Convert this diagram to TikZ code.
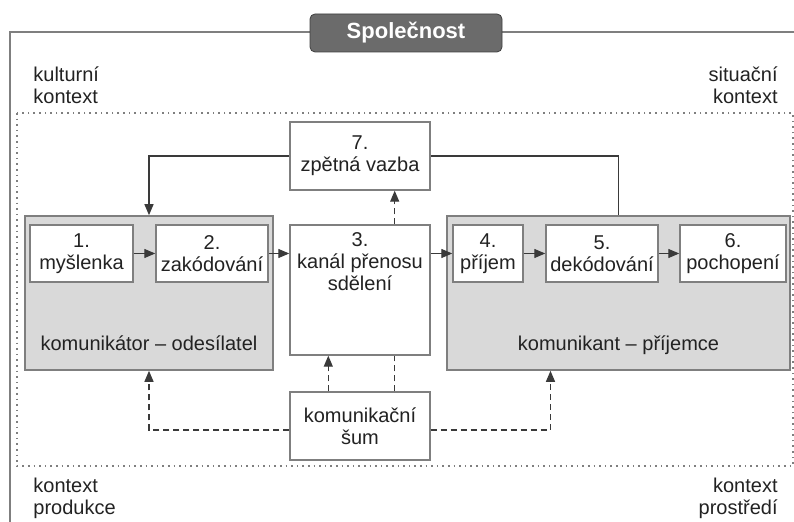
\documentclass[tikz,border=0pt]{standalone}
\usepackage{fontspec}
\setmainfont{Liberation Sans}
\usetikzlibrary{arrows.meta,positioning}

\definecolor{groupfill}{HTML}{D9D9D9}
\definecolor{tabfill}{HTML}{6B6B6B}
\definecolor{framegray}{HTML}{7F7F7F}
\definecolor{ink}{HTML}{222222}
\definecolor{wire}{HTML}{3A3A3A}

\tikzset{
  stepbox/.style={draw=framegray, fill=white, line width=0.7pt, align=center,
    inner sep=1pt, text=ink, minimum height=28.5pt},
  groupbox/.style={draw=framegray, fill=groupfill, line width=0.8pt, minimum height=77pt},
  grouplabel/.style={anchor=south, text=ink, text depth=2pt, yshift=4.5pt},
  ctxtext/.style={inner sep=0pt, text=ink},
  flow/.style={-{Triangle[length=5.5pt,width=4.5pt]}, line width=0.6pt, draw=wire},
  noise/.style={flow, dash pattern=on 3pt off 2pt},
}

\begin{document}
\begin{tikzpicture}[x=0.5pt,y=-0.5pt,font=\fontsize{10}{11}\selectfont]
			\useasboundingbox (0,0) rectangle (794,522);

			% society frame
			\draw[framegray, line width=0.8pt] (10,522) -- (10,32) -- (794,32);
			\node[draw=black!75, fill=tabfill, rounded corners=2.5pt, minimum width=96pt,
				minimum height=19pt, text=white, font=\fontsize{11}{13}\selectfont\bfseries] (soc) at (406,33) {Společnost};

			% context frame
			\draw[dotted, framegray, line width=0.8pt] (17,113) rectangle (793,466);
			\node[ctxtext, align=left, anchor=north west] (kult) at (33,66) {kulturní\\kontext};
			\node[ctxtext, align=right, anchor=north east] (situ) at (778,66) {situační\\kontext};
			\node[ctxtext, align=left, anchor=north west] (prod) at (33,478) {kontext\\produkce};
			\node[ctxtext, align=right, anchor=north east] (pros) at (778,478) {kontext\\prostředí};

			% sender
			\node[groupbox, minimum width=124pt, label={[grouplabel]south:komunikátor – odesílatel}] (odes) at (149,293) {};
			\node[stepbox, minimum width=51.5pt] (mys) at (81.5,253.5) {1.\\myšlenka};
			\node[stepbox, minimum width=56pt] (zak) at (212,253.5) {2.\\zakódování};

			% receiver
			\node[groupbox, minimum width=171.5pt, label={[grouplabel]south:komunikant – příjemce}] (prij) at (618.5,293) {};
			\node[stepbox, minimum width=35pt] (pri) at (488,253.5) {4.\\příjem};
			\node[stepbox, minimum width=56pt] (dek) at (602,253.5) {5.\\dekódování};
			\node[stepbox, minimum width=53pt] (poch) at (733,253.5) {6.\\pochopení};

			% channel, feedback, noise
			\node[stepbox, minimum width=70pt, minimum height=65pt,
				label={[anchor=north, align=center, text=ink, yshift=-0.5pt]north:3.\\kanál přenosu\\sdělení}] (kanal) at (360,290) {};
			\node[stepbox, minimum width=70pt, minimum height=34pt] (zpet) at (360,156) {7.\\zpětná vazba};
			\node[stepbox, minimum width=70pt, minimum height=34pt] (sum) at (360,426) {komunikační\\šum};

			% message flow
			\draw[flow] (mys.east) -- (zak.west);
			\draw[flow] (zak.east) -- (zak.east -| kanal.west);
			\draw[flow] (kanal.east |- pri.west) -- (pri.west);
			\draw[flow] (pri.east) -- (dek.west);
			\draw[flow] (dek.east) -- (poch.west);

			% feedback loop
			\draw[line width=0.6pt, wire] (prij.north) |- (zpet.east);
			\draw[flow] (zpet.west) -| (odes.north);
			\draw[noise] ([xshift=-18pt]kanal.north east) -- ([xshift=-18pt]zpet.south east);

			% noise
			\draw[noise] ([xshift=19.5pt]sum.north west) -- ([xshift=19.5pt]kanal.south west);
			\draw[noise, -] ([xshift=-18pt]sum.north east) -- ([xshift=-18pt]kanal.south east);
			\draw[noise] ([yshift=-2pt]sum.west) -| (odes.south);
			\draw[noise] ([yshift=-2pt]sum.east) -| ([xshift=-34pt]prij.south);
		\end{tikzpicture}
\end{document}
